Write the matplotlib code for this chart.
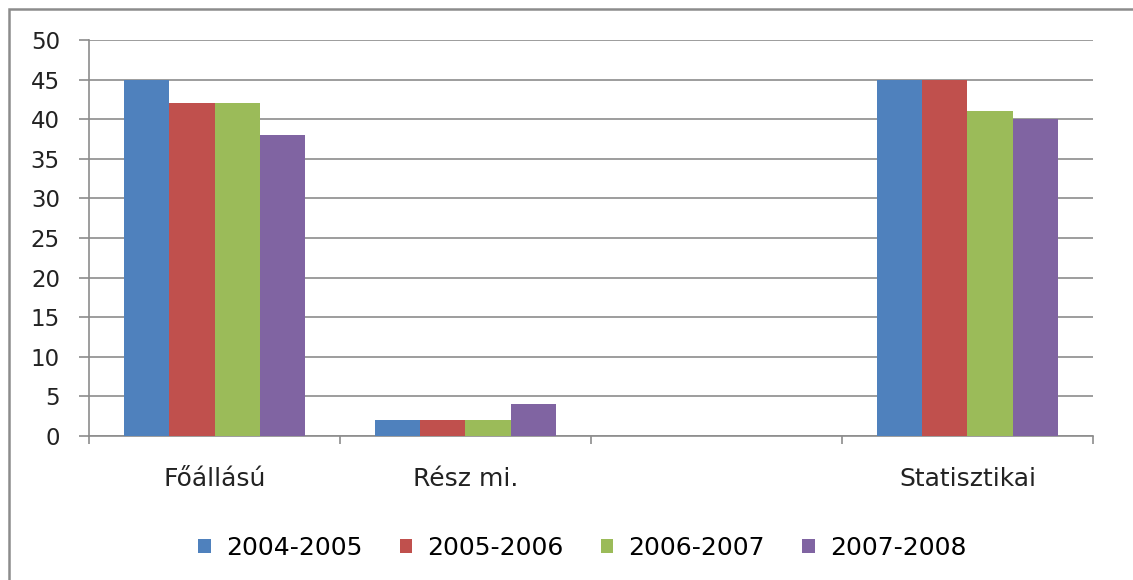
import numpy as np
import matplotlib.pyplot as plt
from matplotlib.patches import Rectangle

categories = ['Főállású', 'Rész mi.', '', 'Statisztikai']
series = ['2004-2005', '2005-2006', '2006-2007', '2007-2008']
values = {
    '2004-2005': [45, 2, 0, 45],
    '2005-2006': [42, 2, 0, 45],
    '2006-2007': [42, 2, 0, 41],
    '2007-2008': [38, 4, 0, 40],
}
colors = ['#4f81bd', '#c0504d', '#9bbb59', '#8064a2']

plt.rcParams['font.family'] = ['DejaVu Sans']

fig = plt.figure(figsize=(11.33, 5.8), dpi=100)
ax = fig.add_axes([0.0786, 0.2483, 0.886, 0.6827])

x = np.arange(len(categories))
w = 0.18
for i, s in enumerate(series):
    ax.bar(x - 1.5 * w + i * w, values[s], width=w, color=colors[i], label=s, zorder=3)

ax.set_xlim(-0.5, len(categories) - 0.5)
ax.set_ylim(0, 50)
ax.set_yticks(np.arange(0, 51, 5))
ax.yaxis.grid(True, color='#8c8c8c', linewidth=1.2, zorder=0)
ax.set_xticks(x)
ax.set_xticklabels(categories)
ax.set_xticks(np.arange(-0.5, len(categories), 1), minor=True)
ax.tick_params(axis='x', which='major', length=0, pad=22, labelsize=18, labelcolor='#222222')
ax.tick_params(axis='x', which='minor', length=6, color='#8c8c8c', width=1.2)
ax.tick_params(axis='y', length=7, color='#8c8c8c', width=1.2, pad=14, labelsize=16.5, labelcolor='#222222')
for sp in ['top', 'right']:
    ax.spines[sp].set_visible(False)
for sp in ['left', 'bottom']:
    ax.spines[sp].set_color('#8c8c8c')
    ax.spines[sp].set_linewidth(1.2)

leg = fig.legend(loc='center', bbox_to_anchor=(0.514, 0.055), ncol=4, frameon=False,
                 fontsize=18, handlelength=0.5, handleheight=0.5, handletextpad=0.6,
                 columnspacing=1.5)

fig.patches.append(Rectangle((0.008, -0.05), 1.05, 1.034, transform=fig.transFigure,
                             fill=False, edgecolor='#8c8c8c', linewidth=1.8))

fig.savefig('out.png', dpi=100)
